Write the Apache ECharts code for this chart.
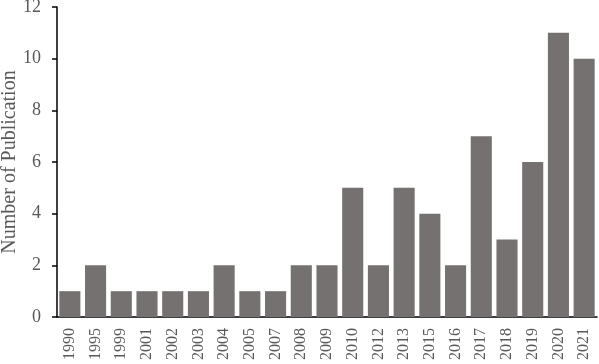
<!DOCTYPE html>
<html><head><meta charset="utf-8">
<script src="https://cdn.jsdelivr.net/npm/echarts@6/dist/echarts.min.js"></script>
<style>html,body{margin:0;padding:0;background:#fff}#c{width:599px;height:364px}</style>
</head><body><div id="c"></div>
<script>
const years = ['1990','1995','1999','2001','2002','2003','2004','2005','2007','2008','2009','2010','2012','2013','2015','2016','2017','2018','2019','2020','2021'];
const counts = [1,2,1,1,1,1,2,1,1,2,2,5,2,5,4,2,7,3,6,11,10];
const yTicks = [0,2,4,6,8,10,12];
const font = '"Liberation Serif", serif';
const chart = echarts.init(document.getElementById('c'));
chart.setOption({
  animation:false,
  grid:{left:57,right:2,top:7,bottom:47,outerBoundsMode:'none',containLabel:false},
  xAxis:{type:'category',data:years,
    axisLine:{lineStyle:{color:'#000',width:1.5}},
    axisTick:{interval:1,length:6,lineStyle:{color:'#000',width:1.5}},
    axisLabel:{rotate:90,interval:0,margin:11,color:'#595959',fontFamily:font,fontSize:16}},
  yAxis:{type:'value',min:yTicks[0],max:yTicks[yTicks.length-1],interval:2,
    name:'Number of Publication',nameLocation:'middle',nameGap:37,nameMoveOverlap:false,
    nameTextStyle:{color:'#595959',fontFamily:font,fontSize:20},
    splitLine:{show:false},
    axisLine:{show:true,lineStyle:{color:'#000',width:1.5}},
    axisTick:{show:true,length:5,lineStyle:{color:'#000',width:1.5}},
    axisLabel:{margin:16,color:'#595959',fontFamily:font,fontSize:18}},
  series:[{type:'bar',data:counts,barCategoryGap:'18%',itemStyle:{color:'#767171'}}]
});
</script></body></html>
